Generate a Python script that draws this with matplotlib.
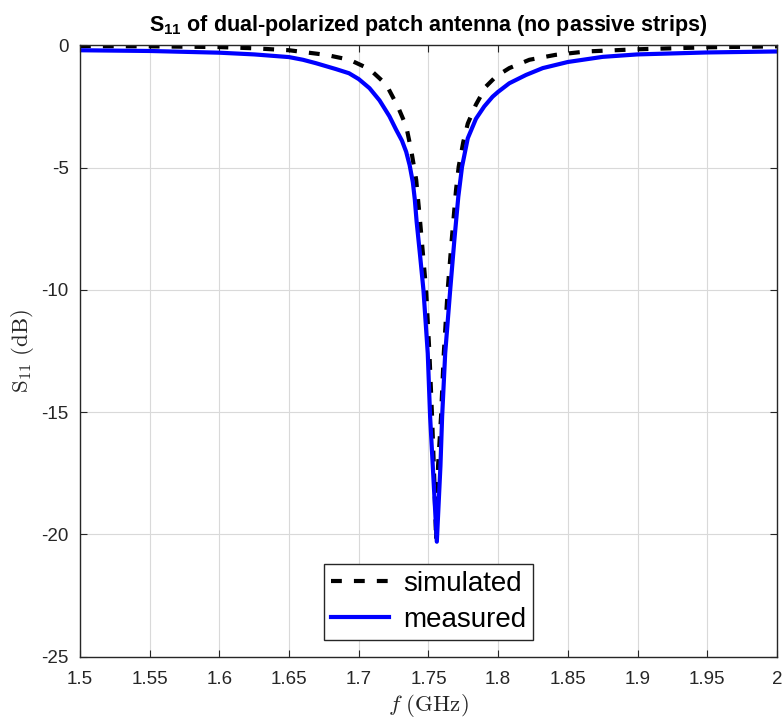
import numpy as np
import matplotlib.pyplot as plt
from matplotlib.ticker import FuncFormatter

plt.rcParams['font.family'] = ['Liberation Sans', 'DejaVu Sans']
plt.rcParams['mathtext.fontset'] = 'cm'
plt.rcParams['mathtext.bf'] = 'Liberation Sans:bold'
plt.rcParams['mathtext.rm'] = 'Liberation Sans'
plt.rcParams['axes.unicode_minus'] = False

# simulated S11 (dB) vs frequency (GHz)
f_sim = [1.500, 1.550, 1.600, 1.625, 1.650, 1.6767, 1.6934, 1.7077, 1.7197,
         1.7280, 1.7340, 1.7376, 1.7412, 1.7440, 1.7483, 1.7507, 1.7526,
         1.7542, 1.7555, 1.7569, 1.7590, 1.7610, 1.7638, 1.7667, 1.7698,
         1.7717, 1.7750, 1.7782, 1.7840, 1.7913, 1.7985, 1.8080, 1.8224,
         1.8410, 1.8630, 1.9000, 1.9500, 2.000]
s_sim = [-0.03, -0.04, -0.07, -0.12, -0.20, -0.39, -0.59, -0.97, -1.60,
         -2.50, -3.30, -4.28, -5.50, -7.20, -10.0, -12.6, -15.2,
         -17.8, -20.25, -17.2, -15.2, -12.6, -10.0, -7.95, -5.90,
         -4.96, -3.95, -3.20, -2.43, -1.68, -1.27, -0.93, -0.59,
         -0.39, -0.25, -0.16, -0.08, -0.04]

# measured S11 (dB) vs frequency (GHz)
f_meas = [1.500, 1.550, 1.600, 1.625, 1.650, 1.660, 1.6693, 1.6836, 1.6930,
          1.7000, 1.7077, 1.7149, 1.7220, 1.7268, 1.7310, 1.7340, 1.7365,
          1.7388, 1.7402, 1.7415, 1.7440, 1.7464, 1.7495, 1.7512, 1.7531,
          1.7560, 1.7586, 1.7598, 1.7620, 1.7656, 1.7686, 1.7714, 1.7741,
          1.7782, 1.7841, 1.7900, 1.7960, 1.8000, 1.8080, 1.8200, 1.8320,
          1.8500, 1.8750, 1.9000, 1.9500, 2.000]
s_meas = [-0.20, -0.23, -0.30, -0.37, -0.48, -0.59, -0.73, -0.97, -1.14,
          -1.38, -1.75, -2.25, -2.90, -3.45, -3.90, -4.35, -4.90,
          -5.60, -6.30, -7.20, -8.60, -10.0, -12.6, -15.2, -17.2,
          -20.3, -17.2, -15.2, -12.6, -10.0, -7.95, -6.20, -4.96,
          -3.80, -3.00, -2.50, -2.10, -1.90, -1.55, -1.21, -0.93,
          -0.68, -0.47, -0.37, -0.29, -0.25]

xticks = np.round(np.arange(1.5, 2.0001, 0.05), 2)
yticks = [-25, -20, -15, -10, -5, 0]

fig = plt.figure(figsize=(7.84, 7.2), dpi=100)
ax = fig.add_axes([0.102, 0.088, 0.889, 0.849])

ax.plot(f_sim, s_sim, color='k', lw=3, dashes=(2.6, 2.9), label='simulated')
ax.plot(f_meas, s_meas, color=(0, 0, 1), lw=3, label='measured')

ax.set_xlim(1.5, 2.0)
ax.set_ylim(-25, 0)
ax.set_xticks(xticks)
ax.set_yticks(yticks)
ax.xaxis.set_major_formatter(FuncFormatter(lambda v, p: '%g' % v))
ax.yaxis.set_major_formatter(FuncFormatter(lambda v, p: '%g' % v))

ax.grid(True, color=(0.85, 0.85, 0.85), lw=0.8)
ax.set_axisbelow(True)
for sp in ax.spines.values():
    sp.set_color((0.15, 0.15, 0.15))
    sp.set_linewidth(1.0)
ax.tick_params(direction='in', length=5, width=0.8, colors=(0.15, 0.15, 0.15),
               labelsize=13.5, top=True, right=True)
ax.tick_params(axis='x', pad=10)
ax.tick_params(axis='y', pad=8)

ax.set_xlabel(r'$f\ \mathrm{(GHz)}$', fontsize=16.5, labelpad=3, color=(0.15, 0.15, 0.15))
ax.set_ylabel(r'$\mathrm{S}_{11}\ \mathrm{(dB)}$', fontsize=16.5, labelpad=4, color=(0.15, 0.15, 0.15))
ttl = ax.set_title(r'S$_{\mathbf{11}}$ of dual-polarized patch antenna (no passive strips)',
                   fontsize=15.5, fontweight='bold', pad=10)
ttl.set_math_fontfamily('custom')

leg = ax.legend(loc='lower center', bbox_to_anchor=(0.5, 0.028), fontsize=20,
                handlelength=2.1, handletextpad=0.5, borderpad=0.25,
                labelspacing=0.35, borderaxespad=0, fancybox=False, framealpha=1)
leg.get_frame().set_edgecolor((0.15, 0.15, 0.15))
leg.get_frame().set_linewidth(1.0)

fig.savefig('out.png', dpi=100)
